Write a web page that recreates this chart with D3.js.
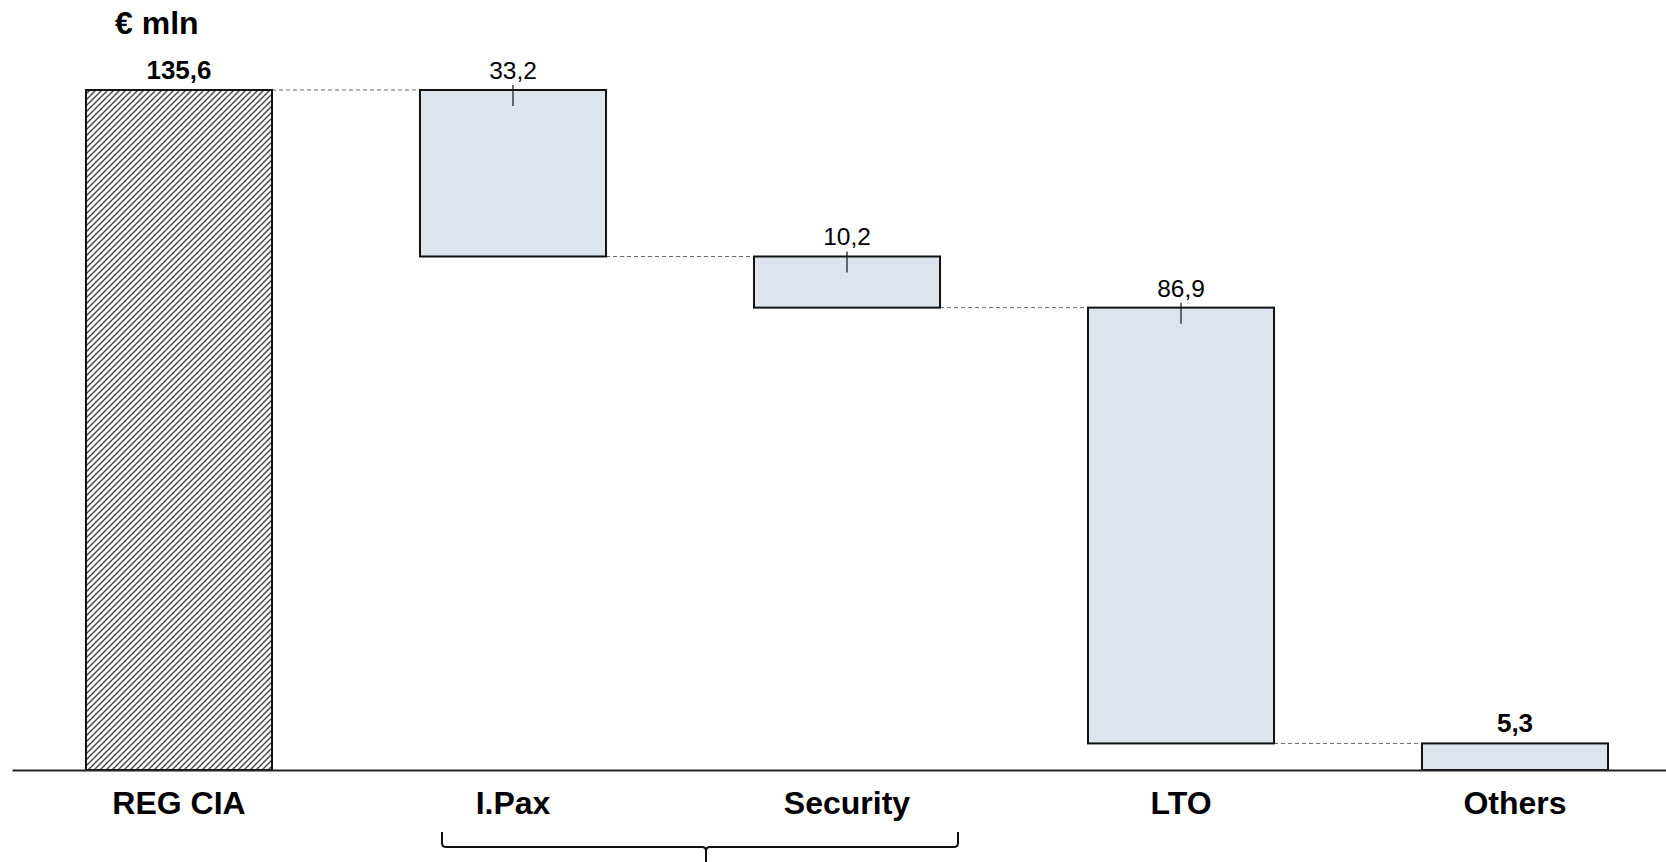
<!DOCTYPE html>
<html>
<head>
<meta charset="utf-8">
<script src="https://cdn.jsdelivr.net/npm/d3@7"></script>
<style>
  html, body { margin: 0; padding: 0; background: #ffffff; }
  svg { display: block; font-family: "Liberation Sans", Arial, sans-serif; }
</style>
</head>
<body>
<svg id="chart" width="1666" height="862"></svg>
<script>
// Bridge from REG CIA down to Others (€ mln)
const categories = ["REG CIA", "I.Pax", "Security", "LTO", "Others"];
const values = [135.6, -33.2, -10.2, -86.9, 5.3];
const kinds = ["total", "delta", "delta", "delta", "total"];
const unitLabel = "€ mln";
const groupedCategories = ["I.Pax", "Security"];

const W = 1666, H = 862;
const baseY = 770, topY = 90;

const it = d3.formatLocale({ decimal: ",", thousands: ".", grouping: [3], currency: ["€", ""] });
const fmt = it.format(".1f");

// running totals -> start / end of each bar
let running = 0;
const bars = categories.map((c, i) => {
  let y0, y1;
  if (kinds[i] === "total") { y0 = 0; y1 = values[i]; running = values[i]; }
  else { y0 = running; y1 = running + values[i]; running = y1; }
  return { cat: c, value: values[i], kind: kinds[i], lo: Math.min(y0, y1), hi: Math.max(y0, y1), level: running };
});

const svg = d3.select("#chart");

const x = d3.scaleBand().domain(categories).range([12, 1682]).paddingInner(0.443).paddingOuter(0.2215);
const y = d3.scaleLinear().domain([0, d3.max(bars, d => d.hi)]).range([baseY, topY]);

// diagonal hatch for the starting total
const defs = svg.append("defs");
const pat = defs.append("pattern")
  .attr("id", "hatch").attr("patternUnits", "userSpaceOnUse")
  .attr("width", 6).attr("height", 6);
pat.append("rect").attr("width", 6).attr("height", 6).attr("fill", "#ffffff");
pat.append("path")
  .attr("d", "M-1,1 l2,-2 M0,6 l6,-6 M5,7 l2,-2")
  .attr("stroke", "#4a4a4a").attr("stroke-width", 1.5);

// dashed connectors between consecutive bars
const links = bars.slice(0, -1).map((b, i) => ({ from: b, to: bars[i + 1], level: b.level }));
svg.append("g").selectAll("line").data(links).join("line")
  .attr("x1", d => x(d.from.cat) + x.bandwidth())
  .attr("x2", d => x(d.to.cat))
  .attr("y1", d => y(d.level)).attr("y2", d => y(d.level))
  .attr("stroke", "#666").attr("stroke-width", 1).attr("stroke-dasharray", "4,3");

// bars
svg.append("g").selectAll("rect").data(bars).join("rect")
  .attr("x", d => x(d.cat))
  .attr("width", x.bandwidth())
  .attr("y", d => y(d.hi))
  .attr("height", d => y(d.lo) - y(d.hi))
  .attr("fill", (d, i) => i === 0 ? "url(#hatch)" : "#dde4ee")
  .attr("stroke", "#111").attr("stroke-width", 2);

// small ticks marking the delta labels
svg.append("g").selectAll("line").data(bars.filter(d => d.kind === "delta")).join("line")
  .attr("x1", d => x(d.cat) + x.bandwidth() / 2)
  .attr("x2", d => x(d.cat) + x.bandwidth() / 2)
  .attr("y1", d => y(d.hi) - 5).attr("y2", d => y(d.hi) + 16)
  .attr("stroke", "#111").attr("stroke-width", 1.2);

// value labels
svg.append("g").selectAll("text").data(bars).join("text")
  .attr("x", d => x(d.cat) + x.bandwidth() / 2)
  .attr("y", d => y(d.hi) - 11)
  .attr("text-anchor", "middle")
  .attr("font-size", d => d.kind === "total" ? 26 : 24.5)
  .attr("font-weight", d => d.kind === "total" ? "bold" : "normal")
  .attr("fill", "#000")
  .text(d => fmt(Math.abs(d.value)));

// category axis
const axis = svg.append("g").attr("transform", `translate(0,${baseY})`)
  .call(d3.axisBottom(x).tickSize(0).tickPadding(21));
axis.select(".domain").attr("stroke", "#222").attr("stroke-width", 2);
axis.selectAll("text")
  .attr("font-family", "'Liberation Sans', Arial, sans-serif")
  .attr("font-size", 32).attr("font-weight", "bold").attr("fill", "#000");

// unit label
svg.append("text").attr("x", 115).attr("y", 34)
  .attr("font-size", 32).attr("font-weight", "bold").attr("fill", "#000")
  .text(unitLabel);

// brace under the grouped categories
const bx0 = x(groupedCategories[0]) + x.bandwidth() / 2 - 71;
const bx1 = x(groupedCategories[1]) + x.bandwidth() / 2 + 111;
const bmid = 706, by = 847, r = 4;
const brace = d3.path();
brace.moveTo(bx0, by - 15);
brace.lineTo(bx0, by - r);
brace.quadraticCurveTo(bx0, by, bx0 + r, by);
brace.lineTo(bmid - r, by);
brace.quadraticCurveTo(bmid, by, bmid, by + r);
brace.lineTo(bmid, H + 2);
brace.moveTo(bmid, by + r);
brace.quadraticCurveTo(bmid, by, bmid + r, by);
brace.lineTo(bx1 - r, by);
brace.quadraticCurveTo(bx1, by, bx1, by - r);
brace.lineTo(bx1, by - 15);
svg.append("path").attr("d", brace.toString())
  .attr("fill", "none").attr("stroke", "#111").attr("stroke-width", 2);
</script>
</body>
</html>
